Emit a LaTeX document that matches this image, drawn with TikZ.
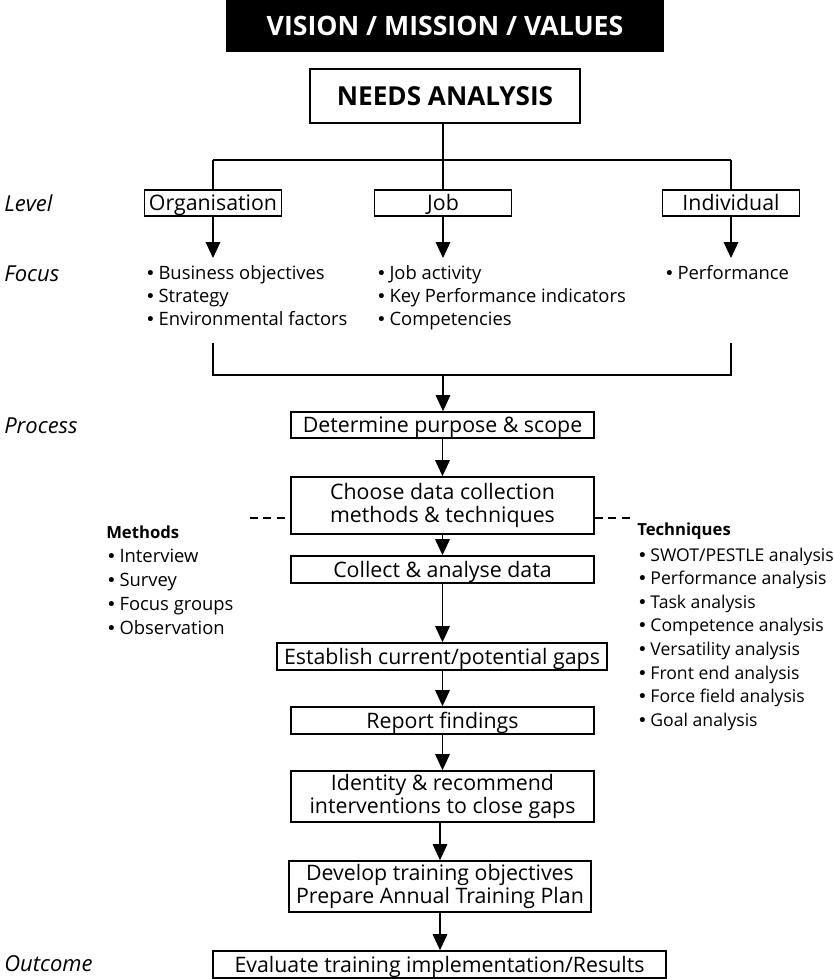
\documentclass[tikz,border=0pt]{standalone}
\usepackage{fontspec}
\setmainfont{Open Sans}
\newfontfamily\dvs{DejaVu Sans}
\usetikzlibrary{arrows.meta}
\newcommand\bul{{\dvs\fontsize{13}{13}\selectfont •}\,}
\begin{document}
\begin{tikzpicture}[x=0.75pt,y=-0.75pt,
  sz/.style 2 args={minimum width=#1*0.75pt,minimum height=#2*0.75pt},
  pbox/.style={draw,line width=1.3pt,inner sep=0pt,align=center,font=\fontsize{16}{17.25}\selectfont},
  one/.style={text height=11.4pt,text depth=0pt},
  conn/.style={line width=0.9pt},
  arr/.style={conn,-{Triangle[width=11pt,length=12pt]}},
  lbl/.style={anchor=base west,inner sep=0pt,font=\fontsize{16.5}{18}\selectfont\itshape},
  item/.style={anchor=base west,inner sep=0pt,font=\fontsize{13.8}{16}\selectfont},
  head/.style={anchor=base west,inner sep=0pt,font=\bfseries\fontsize{12.5}{15}\selectfont}]
\useasboundingbox (0,0) rectangle (833,979);
% top
\node[fill=black,text=white,inner sep=0pt,sz={438}{52},text height=14.3pt,text depth=0pt,font=\bfseries\fontsize{20}{22}\selectfont] (vmv) at (445,26) {VISION / MISSION / VALUES};
\node[pbox,sz={270}{54},text height=14pt,text depth=0pt,font=\bfseries\fontsize{19.6}{22}\selectfont] (needs) at (445,96) {NEEDS ANALYSIS};
% level boxes
\node[pbox,one,sz={137}{26}] (org) at (213,203) {Organisation};
\node[pbox,one,sz={137}{26}] (job) at (443,203) {Job};
\node[pbox,one,sz={137}{26}] (ind) at (731,203) {Individual};
\coordinate (hub) at (443,160);
\coordinate (hl) at (213,160);
\coordinate (hr) at (731,160);
\draw[conn] (needs.south -| hub) -- (hub);
\draw[conn] (hl) -- (hr);
\draw[conn] (hl) -- (org.north);
\draw[conn] (hub) -- (job.north);
\draw[conn] (hr) -- (ind.north);
\coordinate (orgtip) at (213,258);
\coordinate (jobtip) at (443,258);
\coordinate (indtip) at (731,258);
\draw[arr] (org.south) -- (orgtip);
\draw[arr] (job.south) -- (jobtip);
\draw[arr] (ind.south) -- (indtip);
% side labels
\node[lbl] (lvl) at (4,211) {Level};
\node[lbl] (foc) at (4,281) {Focus};
\node[lbl] (proc) at (4,433) {Process};
\node[lbl] (outc) at (4,971) {Outcome};
% focus lists
\foreach \t [count=\i] in {Business objectives,Strategy,Environmental factors}
  \node[item] (fo\i) at (145,{279+23*(\i-1)}) {\bul\t};
\foreach \t [count=\i] in {Job activity,Key Performance indicators,Competencies}
  \node[item] (fj\i) at (376,{279+23*(\i-1)}) {\bul\t};
\node[item] (fi1) at (664,279) {\bul Performance};
% bracket
\coordinate (bl) at (213,343);
\coordinate (br) at (731,343);
\coordinate (merge) at (443,375);
\draw[conn] (bl) -- (bl |- merge) -- (br |- merge) -- (br);
% process chain
\node[pbox,one,sz={303}{26}] (det) at (442.5,425) {Determine purpose \& scope};
\node[pbox,sz={303}{57}] (cho) at (442.5,505.5) {Choose data collection\\methods \& techniques};
\node[pbox,one,sz={303}{27}] (col) at (442.5,569.5) {Collect \& analyse data};
\node[pbox,one,sz={330}{27}] (est) at (442,656.5) {Establish current/potential gaps};
\node[pbox,one,sz={303}{27}] (rep) at (442.5,720.5) {Report findings};
\node[pbox,sz={303}{51}] (ide) at (442.5,796.5) {Identity \& recommend\\interventions to close gaps};
\node[pbox,sz={302}{51}] (dev) at (440,886.5) {Develop training objectives\\Prepare Annual Training Plan};
\node[pbox,one,sz={453}{27}] (eva) at (439.5,964.5) {Evaluate training implementation/Results};
\draw[arr] (merge) -- (det.north -| merge);
\draw[arr] (det) -- (cho);
\draw[arr] (cho) -- (col);
\draw[arr] (col) -- (col |- est.north);
\draw[arr] (est.south -| col) -- (rep);
\draw[arr] (rep) -- (ide);
\draw[arr] (ide.south -| dev) -- (dev);
\draw[arr] (dev) -- (dev |- eva.north);
% dashed leaders
\coordinate (dl) at (250,518);
\coordinate (dr) at (633,518);
\draw[conn,dash pattern=on 6pt off 4pt] (dl) -- (cho.west |- dl);
\draw[conn,dash pattern=on 6pt off 4pt] (cho.east |- dr) -- (dr);
% methods
\node[head] (mh) at (106,538) {Methods};
\foreach \t [count=\i] in {Interview,Survey,Focus groups,Observation}
  \node[item] (m\i) at (106,{562+24*(\i-1)}) {\bul\t};
% techniques
\node[head] (th) at (637,535) {Techniques};
\foreach \t [count=\i] in {SWOT/PESTLE analysis,Performance analysis,Task analysis,Competence analysis,Versatility analysis,Front end analysis,Force field analysis,Goal analysis}
  \node[item,font=\fontsize{13.2}{16}\selectfont] (t\i) at (637,{561+23.6*(\i-1)}) {\bul\t};
\end{tikzpicture}
\end{document}
